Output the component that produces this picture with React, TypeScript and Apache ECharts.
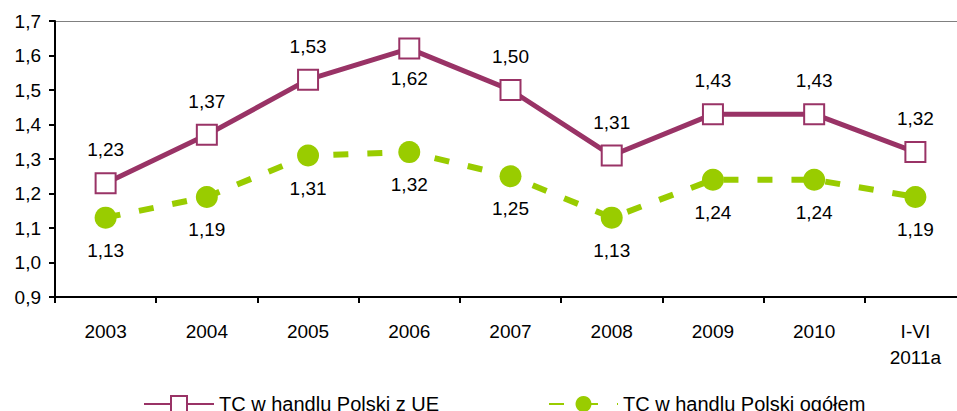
import React, { useEffect, useRef } from "react";
import * as echarts from "echarts";

const categories = ["2003", "2004", "2005", "2006", "2007", "2008", "2009", "2010", "I-VI\n2011a"];
const seriesUE = [1.23, 1.37, 1.53, 1.62, 1.5, 1.31, 1.43, 1.43, 1.32];
const seriesTotal = [1.13, 1.19, 1.31, 1.32, 1.25, 1.13, 1.24, 1.24, 1.19];
const nameUE = "TC w handlu Polski z UE";
const nameTotal = "TC w handlu Polski ogółem";

const FONT = "'Liberation Sans', Arial, sans-serif";
const FS = 19;
const MAGENTA = "#993366";
const GREEN = "#99CC00";

const fmt2 = (v: number) => v.toFixed(2).replace(".", ",");

export default function App() {
  const ref = useRef<HTMLDivElement>(null);
  useEffect(() => {
    if (!ref.current) return;
    const chart = echarts.init(ref.current, undefined, { renderer: "svg" });
    const labelBase = {
      show: true,
      color: "#000",
      fontSize: FS,
      fontFamily: FONT,
      formatter: (p: any) => fmt2(p.value),
    };
    chart.setOption({
      animation: false,
      backgroundColor: "#fff",
      grid: { left: 55, right: 0, top: 21, bottom: 114, containLabel: false },
      legend: [
        {
          data: [nameUE],
          left: 138,
          top: 389,
          itemWidth: 70,
          itemHeight: 20,
          textStyle: { fontSize: 20, fontFamily: FONT, color: "#000" },
        },
        {
          data: [nameTotal],
          left: 543,
          top: 389,
          itemWidth: 69,
          itemHeight: 20,
          textStyle: { fontSize: 20, fontFamily: FONT, color: "#000" },
        },
      ],
      xAxis: {
        type: "category",
        data: categories,
        boundaryGap: true,
        axisLine: { lineStyle: { color: "#000", width: 2 } },
        axisTick: { show: true, length: 6, lineStyle: { color: "#000", width: 2 } },
        axisLabel: {
          color: "#000",
          fontSize: FS,
          fontFamily: FONT,
          margin: 21,
          lineHeight: 26,
          interval: 0,
        },
      },
      yAxis: {
        type: "value",
        min: 0.9,
        max: 1.7,
        interval: 0.1,
        axisLine: { show: true, lineStyle: { color: "#000", width: 2 } },
        axisTick: { show: true, length: 6, lineStyle: { color: "#000", width: 2 } },
        axisLabel: {
          color: "#000",
          fontSize: FS,
          fontFamily: FONT,
          margin: 14,
          formatter: (v: number) => v.toFixed(1).replace(".", ","),
        },
        splitLine: {
          show: true,
          lineStyle: {
            color: [
              "transparent",
              "transparent",
              "transparent",
              "transparent",
              "transparent",
              "transparent",
              "transparent",
              "transparent",
              "#808080",
            ],
            width: 1,
          },
        },
      },
      series: [
        {
          name: nameTotal,
          type: "line",
          data: seriesTotal.map((v) => ({ value: v })),
          symbol: "circle",
          symbolSize: 22,
          z: 2,
          lineStyle: { color: GREEN, width: 6, type: [15, 19] },
          itemStyle: { color: GREEN },
          label: { ...labelBase, position: "bottom", distance: 12 },
        },
        {
          name: nameUE,
          type: "line",
          data: seriesUE.map((v, i) =>
            i === 3
              ? { value: v, label: { position: "bottom", distance: 9 } }
              : { value: v }
          ),
          symbol: "rect",
          symbolSize: 20,
          z: 3,
          lineStyle: { color: MAGENTA, width: 5 },
          itemStyle: { color: "#fff", borderColor: MAGENTA, borderWidth: 2 },
          label: { ...labelBase, position: "top", distance: 13 },
        },
      ],
    });
    return () => chart.dispose();
  }, []);
  return (
    <div
      style={{
        position: "fixed",
        left: 0,
        top: 0,
        width: 957,
        height: 411,
        overflow: "hidden",
        background: "#fff",
      }}
    >
      <div ref={ref} style={{ width: 966, height: 411 }} />
    </div>
  );
}
